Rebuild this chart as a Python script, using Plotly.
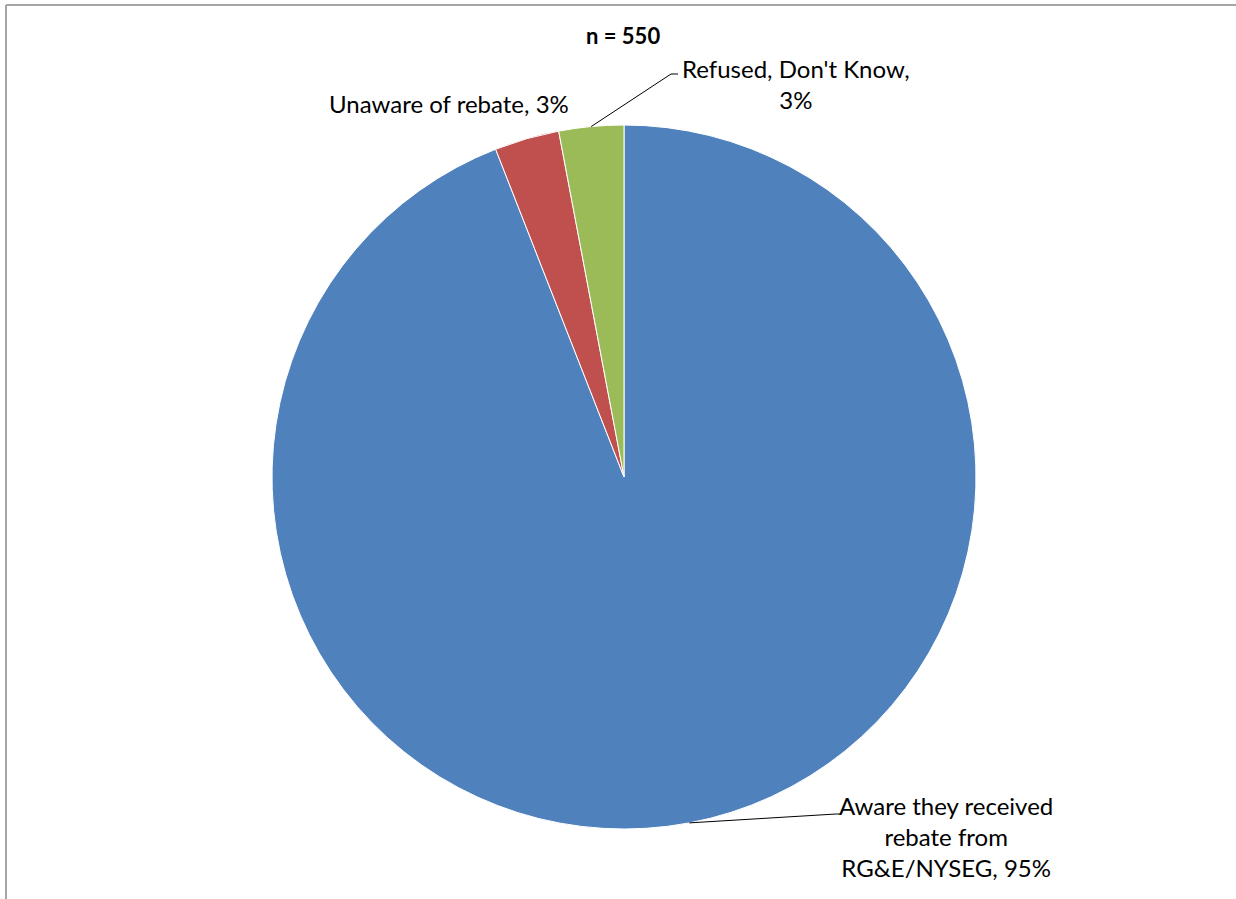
import math
import plotly.graph_objects as go

# Survey response shares (percent), n = 550
categories = ["Aware they received<br>rebate from<br>RG&E/NYSEG", "Unaware of rebate", "Refused, Don't Know,<br>"]
shares = [95, 3, 3]
colors = ["#4F81BD", "#C0504D", "#9BBB59"]
title_text = "n = 550"

W, H = 1236, 899
FONT = "Lato, 'Open Sans', 'Liberation Sans', sans-serif"

# pie placement in paper units
cx_px, cy_px, r_px = 624, 477, 352
dom_x = [(cx_px - r_px) / W, (cx_px + r_px) / W]
dom_y = [(H - cy_px - r_px) / H, (H - cy_px + r_px) / H]


def px(x, y):
    """pixel position -> paper coordinates"""
    return x / W, 1 - y / H


def edge_point(idx):
    """point on the pie rim at the middle of slice idx (clockwise from 12 o'clock)"""
    total = sum(shares)
    start = sum(shares[:idx]) / total * 360
    mid = math.radians(start + shares[idx] / total * 360 / 2)
    return cx_px + r_px * math.sin(mid), cy_px - r_px * math.cos(mid)


fig = go.Figure(
    go.Pie(
        labels=categories,
        values=shares,
        sort=False,
        direction="clockwise",
        rotation=0,
        marker=dict(colors=colors, line=dict(color="white", width=1)),
        textinfo="none",
        hoverinfo="label+value",
        showlegend=False,
        domain=dict(x=dom_x, y=dom_y),
    )
)

label_font = dict(family=FONT, size=24, color="#000000")
annotations = []
shapes = []

# label text for each slice: (text, center x px, center y px)
label_specs = [
    (f"Aware they received<br>rebate from<br>RG&E/NYSEG, {shares[0]}%", 946, 836),
    (f"Unaware of rebate, {shares[1]}%", 449, 103),
    (f"Refused, Don't Know,<br>{shares[2]}%", 796, 84),
]
for text, x, y in label_specs:
    ax, ay = px(x, y)
    annotations.append(dict(text=text, x=ax, y=ay, xref="paper", yref="paper",
                            xanchor="center", yanchor="middle", align="center",
                            showarrow=False, font=label_font))

# leader lines: rim point -> elbow -> text start
leaders = [(0, (836, 814), (841, 814)), (2, (671, 74), (678, 74))]
for idx, elbow, end in leaders:
    p0 = px(*edge_point(idx))
    p1 = px(*elbow)
    p2 = px(*end)
    path = f"M {p0[0]},{p0[1]} L {p1[0]},{p1[1]} L {p2[0]},{p2[1]}"
    shapes.append(dict(type="path", path=path, xref="paper", yref="paper",
                       line=dict(color="#000000", width=1)))

# title
tx, ty = px(623, 36)
annotations.append(dict(text="<b>" + title_text + "</b>", x=tx, y=ty, xref="paper", yref="paper",
                        xanchor="center", yanchor="middle", showarrow=False,
                        font=dict(family=FONT, size=22, color="#000000")))

# chart frame (top and left edges)
for x0, y0, x1, y1 in [(6, 5, W, 5), (6, 5, 6, H)]:
    a, b = px(x0, y0)
    c, d = px(x1, y1)
    shapes.append(dict(type="line", x0=a, y0=b, x1=c, y1=d, xref="paper", yref="paper",
                       line=dict(color="#A6A6A6", width=2)))

fig.update_layout(
    width=W,
    height=H,
    margin=dict(l=0, r=0, t=0, b=0),
    paper_bgcolor="white",
    plot_bgcolor="white",
    annotations=annotations,
    shapes=shapes,
)

fig.write_html("out.html")
